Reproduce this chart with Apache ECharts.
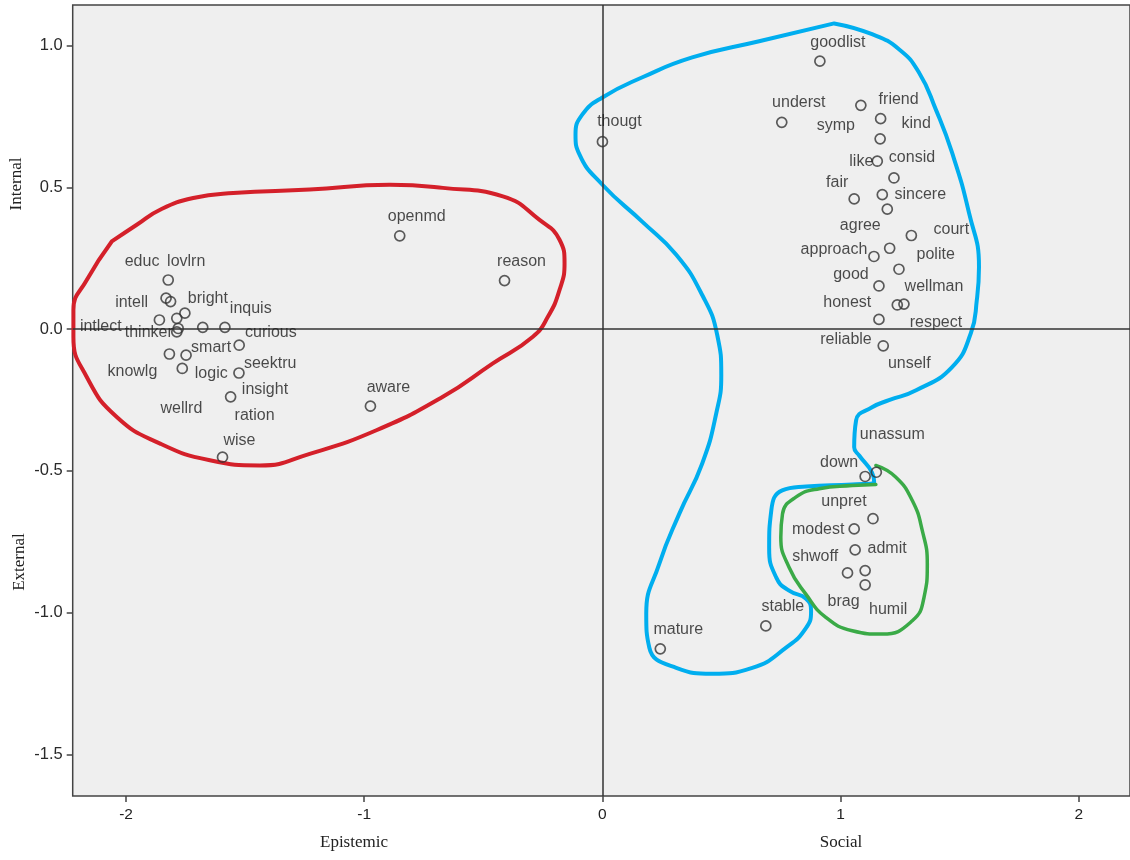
<!DOCTYPE html>
<html>
<head>
<meta charset="utf-8">
<script src="https://cdn.jsdelivr.net/npm/echarts@6/dist/echarts.min.js"></script>
<style>
html,body{margin:0;padding:0;background:#fff;}
#chart{width:1130px;height:860px;}
</style>
</head>
<body>
<div id="chart"></div>
<script>
// ---- data ----
const names = ['lovlrn','educ','intell','bright','intlect','knowlg','','thinker','inquis','curious','seektru','wellrd','smart','logic','insight','ration','wise',
  'openmd','reason','aware','thougt',
  'goodlist','underst','symp','friend','kind','like','consid','fair','sincere','agree','court','polite','approach','wellman','good','honest','respect','reliable','unself',
  'down','unassum','unpret','modest','shwoff','brag','admit','humil','stable','mature'];
const xs = [-1.823,-1.832,-1.813,-1.753,-1.787,-1.860,-1.781,-1.787,-1.678,-1.585,-1.525,-1.818,-1.748,-1.764,-1.526,-1.561,-1.595,
  -0.851,-0.411,-0.974,0.000,
  0.913,0.753,1.085,1.168,1.166,1.154,1.224,1.057,1.175,1.196,1.297,1.206,1.140,1.245,1.161,1.238,1.266,1.161,1.179,
  1.103,1.150,1.136,1.057,1.061,1.029,1.103,1.103,0.686,0.243];
const ys = [0.173,0.109,0.097,0.056,0.038,0.032,0.002,-0.010,0.006,0.006,-0.057,-0.088,-0.092,-0.139,-0.155,-0.239,-0.452,
  0.329,0.171,-0.272,0.661,
  0.945,0.729,0.789,0.742,0.671,0.592,0.533,0.459,0.474,0.423,0.330,0.285,0.256,0.211,0.152,0.085,0.088,0.034,-0.059,
  -0.520,-0.505,-0.669,-0.705,-0.779,-0.860,-0.852,-0.902,-1.047,-1.128];

const xTicks = [-2,-1,0,1,2];
const yTicks = [-1.5,-1.0,-0.5,0.0,0.5,1.0];

// hand-drawn group outlines (data units)
const redOutline = [[-2.060,0.309],[-1.955,0.368],[-1.857,0.421],[-1.718,0.462],[-1.550,0.480],[-1.229,0.492],[-0.893,0.509],[-0.670,0.498],[-0.418,0.468],[-0.264,0.385],[-0.180,0.315],[-0.159,0.232],[-0.180,0.138],[-0.229,0.043],[-0.292,-0.027],[-0.460,-0.121],[-0.670,-0.239],[-0.949,-0.357],[-1.229,-0.440],[-1.438,-0.481],[-1.648,-0.463],[-1.857,-0.404],[-2.039,-0.310],[-2.165,-0.169],[-2.221,-0.027],[-2.221,0.067],[-2.165,0.173],[-2.060,0.309]];
const blueOutline = [[0.973,1.078],[1.132,1.040],[1.245,0.987],[1.329,0.905],[1.400,0.774],[1.468,0.622],[1.539,0.410],[1.581,0.219],[1.572,0.103],[1.547,-0.014],[1.468,-0.134],[1.317,-0.216],[1.203,-0.251],[1.132,-0.276],[1.065,-0.322],[1.057,-0.417],[1.078,-0.446],[1.132,-0.506],[1.141,-0.541],[1.048,-0.548],[0.855,-0.555],[0.755,-0.569],[0.709,-0.640],[0.700,-0.771],[0.730,-0.877],[0.784,-0.923],[0.855,-0.951],[0.876,-0.994],[0.855,-1.054],[0.771,-1.124],[0.629,-1.195],[0.461,-1.216],[0.310,-1.195],[0.197,-1.124],[0.184,-1.004],[0.239,-0.827],[0.323,-0.651],[0.419,-0.474],[0.478,-0.297],[0.499,-0.163],[0.482,-0.021],[0.419,0.120],[0.310,0.262],[0.168,0.378],[0.000,0.509],[-0.096,0.615],[-0.113,0.686],[-0.084,0.757],[0.000,0.817],[0.168,0.888],[0.377,0.958],[0.658,1.015],[0.973,1.078]];
const greenOutline = [[1.148,-0.481],[1.231,-0.522],[1.301,-0.605],[1.343,-0.711],[1.364,-0.829],[1.350,-0.947],[1.301,-1.029],[1.175,-1.076],[1.049,-1.064],[0.938,-1.017],[0.854,-0.935],[0.784,-0.841],[0.749,-0.734],[0.756,-0.652],[0.812,-0.593],[0.910,-0.563],[1.049,-0.552],[1.148,-0.548]];

// label placement (pixel offsets from marker centre) -- styling only
const labelOffsets = [[18,-18],[-24,-37],[-39,1],[23,-15],[-76,8],[-27,52],[0,0],[-28,1],[48,-19],[46,5],[31,18],[12,55],[25,-8],[29,5],[26,17],[24,19],[17,-17],
  [17,-19],[17,-19],[18,-19],[17,-20],
  [18,-19],[17,-20],[-25,20],[18,-19],[36,-15],[-16,0],[18,-20],[-17,-16],[38,0],[-27,16],[40,-6],[46,6],[-40,-7],[35,17],[-28,-11],[-50,-2],[32,18],[-33,20],[26,18],
  [-26,-14],[16,-38],[-29,-17],[-36,1],[-40,7],[-4,29],[22,-22],[23,25],[17,-19],[18,-19]];

// ---- chart ----
const chart = echarts.init(document.getElementById('chart'), null, {renderer:'canvas'});
const points = names.map((n,i)=>({
  name:n, value:[xs[i], ys[i]],
  label:{offset:labelOffsets[i]}
}));
const outline = (data,color,w)=>({
  type:'line', data:data, smooth:0.5, symbol:'none', silent:true, z:3,
  lineStyle:{color:color, width:w, cap:'round', join:'round'}
});

chart.setOption({
  animation:false,
  backgroundColor:'#ffffff',
  grid:{left:72.7, top:5, right:-2, bottom:64, show:true, backgroundColor:'#efefef', borderColor:'#444', borderWidth:1.5, containLabel:false},
  xAxis:{type:'value', min:-2.224, max:2.215,
    axisLine:{show:false, onZero:false}, splitLine:{show:false},
    axisTick:{show:true, customValues:xTicks, length:6, lineStyle:{color:'#444', width:1.5}},
    axisLabel:{customValues:xTicks, margin:11, color:'#222', fontFamily:'Liberation Sans', fontSize:15.5, formatter:v=>String(v)}
  },
  yAxis:{type:'value', min:-1.647, max:1.143,
    axisLine:{show:false, onZero:false}, splitLine:{show:false},
    axisTick:{show:true, customValues:yTicks, length:6, lineStyle:{color:'#444', width:1.5}},
    axisLabel:{customValues:yTicks, margin:10, color:'#2a2a2a', fontFamily:'Liberation Sans', fontSize:16.5, formatter:v=>v.toFixed(1)}
  },
  graphic:[
    {type:'text', x:17, y:184, rotation:Math.PI/2, style:{text:'Internal', font:'17px "Liberation Serif"', fill:'#222', align:'center', verticalAlign:'middle'}},
    {type:'text', x:20, y:562, rotation:Math.PI/2, style:{text:'External', font:'17px "Liberation Serif"', fill:'#222', align:'center', verticalAlign:'middle'}},
    {type:'text', x:354, y:843, style:{text:'Epistemic', font:'17px "Liberation Serif"', fill:'#222', align:'center', verticalAlign:'middle'}},
    {type:'text', x:841, y:843, style:{text:'Social', font:'17px "Liberation Serif"', fill:'#222', align:'center', verticalAlign:'middle'}}
  ],
  series:[
    outline(redOutline,'#d4202a',4),
    outline(blueOutline,'#00aeef',4),
    outline(greenOutline,'#3aaa47',3.5),
    {
      type:'scatter', data:points, z:5,
      symbol:'circle', symbolSize:10,
      itemStyle:{color:'transparent', borderColor:'#333', borderWidth:1.7},
      label:{show:true, position:'inside', formatter:'{b}', color:'#1e1e1e', fontFamily:'Liberation Sans', fontSize:16, align:'center', verticalAlign:'middle'},
      markLine:{silent:true, symbol:'none', animation:false,
        lineStyle:{color:'#333', width:1.5, type:'solid'}, label:{show:false},
        data:[{xAxis:0},{yAxis:0}]}
    }
  ]
});
</script>
</body>
</html>
